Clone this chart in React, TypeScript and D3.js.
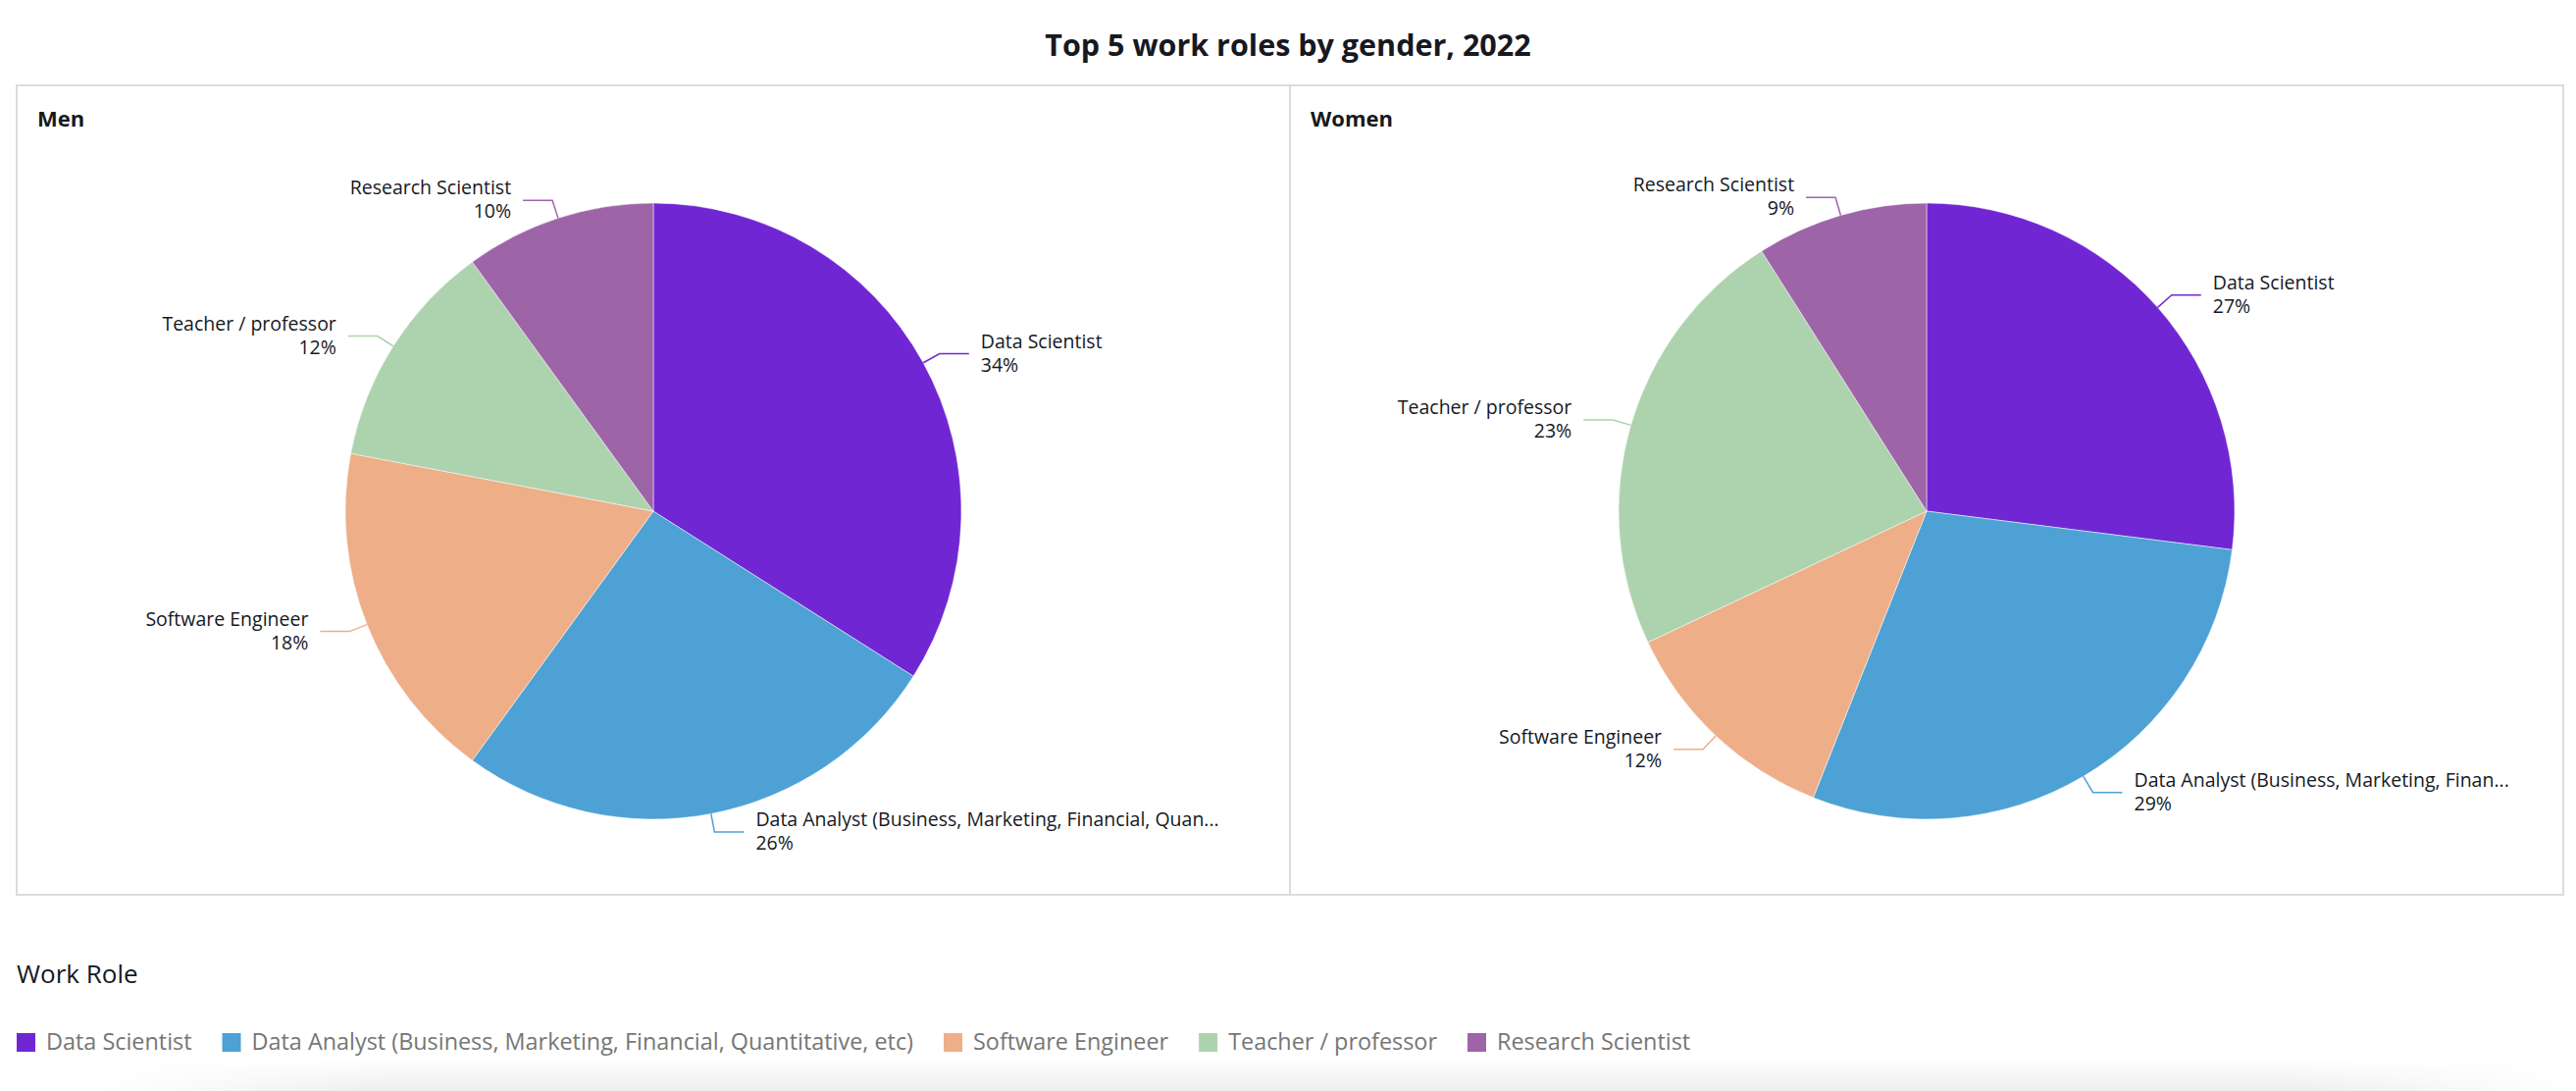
import React, { useEffect, useRef } from 'react';
import * as d3 from 'd3';

const roles = [
  'Data Scientist',
  'Data Analyst (Business, Marketing, Financial, Quantitative, etc)',
  'Software Engineer',
  'Teacher / professor',
  'Research Scientist',
];
const roleColors = ['#7027D3', '#4EA1D5', '#EEAE88', '#ADD3AE', '#9E64A8'];
const panelNames = ['Men', 'Women'];
const menShares = [34, 26, 18, 12, 10];
const womenShares = [27, 29, 12, 23, 9];

const W = 2626;
const H = 1112;
const FONT = '"Open Sans", "Noto Sans", sans-serif';

const App: React.FC = () => {
  const svgRef = useRef<SVGSVGElement>(null);

  useEffect(() => {
    document.body.style.margin = '0';
    if (!svgRef.current) return;
    const svg = d3.select(svgRef.current);
    svg.selectAll('*').remove();
    svg.style('font-family', FONT);

    // soft page shadow along the bottom edge
    const defs = svg.append('defs');
    const vGrad = defs
      .append('linearGradient')
      .attr('id', 'shadeV')
      .attr('x1', 0)
      .attr('x2', 0)
      .attr('y1', 0)
      .attr('y2', 1);
    vGrad.append('stop').attr('offset', '0%').attr('stop-color', '#fff');
    vGrad.append('stop').attr('offset', '100%').attr('stop-color', '#ededed');
    const hGrad = defs
      .append('linearGradient')
      .attr('id', 'shadeH')
      .attr('x1', 0)
      .attr('x2', 1)
      .attr('y1', 0)
      .attr('y2', 0);
    hGrad.append('stop').attr('offset', '0%').attr('stop-color', '#000');
    hGrad.append('stop').attr('offset', '12%').attr('stop-color', '#fff');
    hGrad.append('stop').attr('offset', '88%').attr('stop-color', '#fff');
    hGrad.append('stop').attr('offset', '100%').attr('stop-color', '#000');
    defs
      .append('mask')
      .attr('id', 'shadeMask')
      .append('rect')
      .attr('x', 100)
      .attr('y', 1080)
      .attr('width', W - 100)
      .attr('height', H - 1080)
      .attr('fill', 'url(#shadeH)');
    svg
      .append('rect')
      .attr('x', 100)
      .attr('y', 1080)
      .attr('width', W - 100)
      .attr('height', H - 1080)
      .attr('fill', 'url(#shadeV)')
      .attr('mask', 'url(#shadeMask)');

    // Title
    svg
      .append('text')
      .attr('x', W / 2)
      .attr('y', 57)
      .attr('text-anchor', 'middle')
      .style('font-size', '30.5px')
      .style('font-weight', 'bold')
      .style('fill', '#16191f')
      .text('Top 5 work roles by gender, 2022');

    // Panel frame
    const frame = { x: 17, y: 87, w: 2596, h: 825 };
    const panelW = frame.w / 2;
    svg
      .append('rect')
      .attr('x', frame.x)
      .attr('y', frame.y)
      .attr('width', frame.w)
      .attr('height', frame.h)
      .attr('fill', 'none')
      .attr('stroke', '#dcdcdc')
      .attr('stroke-width', 2);
    svg
      .append('line')
      .attr('x1', frame.x + panelW)
      .attr('x2', frame.x + panelW)
      .attr('y1', frame.y)
      .attr('y2', frame.y + frame.h)
      .attr('stroke', '#dcdcdc')
      .attr('stroke-width', 2);

    const color = d3.scaleOrdinal<string, string>().domain(roles).range(roleColors);
    const radius = 314;

    const pie = d3
      .pie<number>()
      .value(d => d)
      .sort(null);
    const arc = d3.arc<d3.PieArcDatum<number>>().innerRadius(0).outerRadius(radius);

    [menShares, womenShares].forEach((shares, pi) => {
      const left = frame.x + pi * panelW;
      const right = left + panelW;
      const cx = left + panelW / 2;
      const cy = 521;

      svg
        .append('text')
        .attr('x', left + 21)
        .attr('y', 129)
        .style('font-size', '22px')
        .style('font-weight', 'bold')
        .style('fill', '#16191f')
        .text(panelNames[pi]);

      const g = svg.append('g').attr('transform', `translate(${cx},${cy})`);
      const arcs = pie(shares);

      g.selectAll('path.slice')
        .data(arcs)
        .enter()
        .append('path')
        .attr('class', 'slice')
        .attr('d', arc)
        .attr('fill', (d, i) => color(roles[i]))
        .attr('stroke', '#fff')
        .attr('stroke-width', 0.5);

      arcs.forEach((d, i) => {
        const mid = (d.startAngle + d.endAngle) / 2;
        const sx = Math.sin(mid);
        const sy = -Math.cos(mid);
        const side = sx >= 0 ? 1 : -1;
        const p1 = [sx * radius, sy * radius];
        const p2 = [sx * (radius + 19), sy * (radius + 19)];
        const p3 = [p2[0] + side * 30, p2[1]];

        g.append('polyline')
          .attr('points', [p1, p2, p3].map(p => p.join(',')).join(' '))
          .attr('fill', 'none')
          .attr('stroke', color(roles[i]))
          .attr('stroke-width', 1.5);

        const tx = p3[0] + side * 12;
        const label = g
          .append('text')
          .attr('x', tx)
          .attr('y', p3[1] - 6)
          .attr('text-anchor', side > 0 ? 'start' : 'end')
          .style('font-size', '19.5px')
          .style('fill', '#16191f')
          .text(roles[i]);

        // truncate labels that run out of the panel
        const node = label.node() as SVGTextElement;
        const room = side > 0 ? right - (cx + tx) : cx + tx - left;
        const maxW = room * 0.875;
        let txt = roles[i];
        if (node.getComputedTextLength() > maxW) {
          while (txt.length > 1) {
            txt = txt.slice(0, -1);
            node.textContent = txt.trimEnd() + '...';
            if (node.getComputedTextLength() <= maxW) break;
          }
        }

        g.append('text')
          .attr('x', tx)
          .attr('y', p3[1] + 18)
          .attr('text-anchor', side > 0 ? 'start' : 'end')
          .style('font-size', '19.5px')
          .style('fill', '#16191f')
          .text(`${d.data}%`);
      });
    });

    // Legend
    svg
      .append('text')
      .attr('x', 17)
      .attr('y', 1002)
      .style('font-size', '26px')
      .style('fill', '#16191f')
      .text('Work Role');

    let lx = 17;
    roles.forEach((role, i) => {
      svg
        .append('rect')
        .attr('x', lx)
        .attr('y', 1053)
        .attr('width', 19)
        .attr('height', 19)
        .attr('fill', color(role));
      const t = svg
        .append('text')
        .attr('x', lx + 30)
        .attr('y', 1070)
        .style('font-size', '23.4px')
        .style('fill', '#767676')
        .text(role);
      lx += 30 + (t.node() as SVGTextElement).getComputedTextLength() + 31;
    });
  }, []);

  return <svg ref={svgRef} width={W} height={H} style={{ display: 'block', background: '#fff' }} />;
};

export default App;
